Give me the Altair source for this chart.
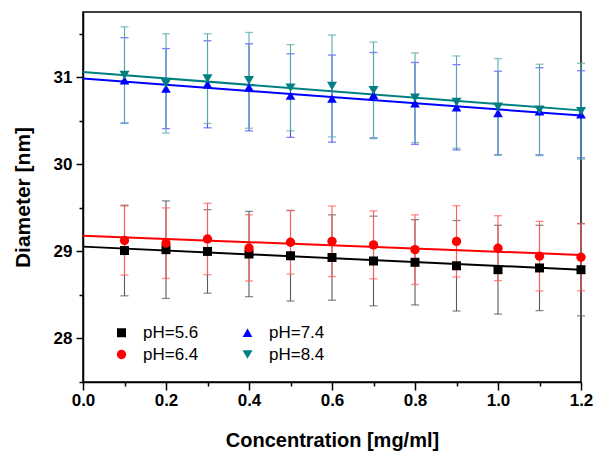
import altair as alt
import pandas as pd

# ---- data ----
conc = [0.1, 0.2, 0.3, 0.4, 0.5, 0.6, 0.7, 0.8, 0.9, 1.0, 1.1, 1.2]

ph56 = [29.01, 29.02, 29.00, 28.97, 28.95, 28.93, 28.89, 28.875, 28.835, 28.79, 28.81, 28.79]
err56 = [0.52, 0.56, 0.48, 0.49, 0.52, 0.49, 0.515, 0.49, 0.52, 0.51, 0.49, 0.53]

ph64 = [29.125, 29.095, 29.143, 29.04, 29.105, 29.116, 29.075, 29.02, 29.115, 29.037, 28.945, 28.933]
err64 = [0.397, 0.405, 0.41, 0.38, 0.365, 0.405, 0.39, 0.40, 0.41, 0.373, 0.40, 0.385]

ph74 = [30.965, 30.87, 30.92, 30.885, 30.79, 30.755, 30.795, 30.70, 30.655, 30.59, 30.61, 30.575]
err74 = [0.49, 0.46, 0.50, 0.50, 0.48, 0.50, 0.49, 0.47, 0.49, 0.48, 0.50, 0.50]

ph84 = [31.025, 30.93, 30.985, 30.965, 30.88, 30.90, 30.85, 30.765, 30.715, 30.66, 30.625, 30.61]
err84 = [0.555, 0.57, 0.515, 0.55, 0.495, 0.585, 0.555, 0.515, 0.53, 0.555, 0.525, 0.55]

# linear fit lines (end points)
fit_x = [0.0, 1.2]
fit56 = [29.055, 28.79]
fit64 = [29.18, 28.96]
fit74 = [30.985, 30.56]
fit84 = [31.06, 30.62]

labels = ["pH=5.6", "pH=6.4", "pH=7.4", "pH=8.4"]
colors = ["#000000", "#ff0000", "#0000ff", "#008080"]
bar_colors = ["#5a5a5a", "#ff5c5c", "#4848ff", "#5aa9a9"]
shapes = ["square", "circle", "triangle-up", "triangle-down"]
sizes = [81, 100, 121, 121]

x_ticks = [0.0, 0.1, 0.2, 0.3, 0.4, 0.5, 0.6, 0.7, 0.8, 0.9, 1.0, 1.1, 1.2]
y_ticks = [27.5, 28.0, 28.5, 29.0, 29.5, 30.0, 30.5, 31.0, 31.5]

# ---- tables ----
rows = []
for lab, ys, es in zip(labels, [ph56, ph64, ph74, ph84], [err56, err64, err74, err84]):
    for x, y, e in zip(conc, ys, es):
        rows.append({"series": lab, "x": x, "y": y, "lo": y - e, "hi": y + e})
pts = pd.DataFrame(rows)

frows = []
for lab, fy in zip(labels, [fit56, fit64, fit74, fit84]):
    for x, y in zip(fit_x, fy):
        frows.append({"series": lab, "x": x, "y": y})
fits = pd.DataFrame(frows)

FONT = "Liberation Sans"

xscale = alt.Scale(domain=[0, 1.2], nice=False, zero=False)
yscale = alt.Scale(domain=[27.5, 31.75], nice=False, zero=False)
cscale = alt.Scale(domain=labels, range=colors)
sscale = alt.Scale(domain=labels, range=shapes)
zscale = alt.Scale(domain=labels, range=sizes)

xaxis = alt.Axis(
    title="Concentration [mg/ml]",
    values=x_ticks,
    labelExpr="round(datum.value*10) % 2 == 0 ? format(datum.value, '.1f') : ''",
    tickSize={"condition": {"test": "round(datum.value*10) % 2 == 0", "value": 8}, "value": 4},
    grid=False,
    labelPadding=2,
    titlePadding=22,
    labelFlush=False,
)
yaxis = alt.Axis(
    title="Diameter [nm]",
    values=y_ticks,
    labelExpr="abs(datum.value - round(datum.value)) < 0.01 ? format(datum.value, 'd') : ''",
    tickSize={"condition": {"test": "abs(datum.value - round(datum.value)) < 0.01", "value": 7}, "value": 4},
    grid=False,
    labelPadding=4,
    titlePadding=20,
    titleFontSize=21,
)

# one error-bar layer per series, so that later series are drawn on top
err_layers = []
for lab, bc in zip(labels, bar_colors):
    err_layers.append(
        alt.Chart(pts)
        .transform_filter(alt.datum.series == lab)
        .mark_errorbar(orient="vertical", thickness=1.1, color=bc,
                       ticks={"size": 8, "thickness": 1.3, "color": bc},
                       rule={"color": bc})
        .encode(
            x=alt.X("x:Q", scale=xscale, axis=xaxis),
            y=alt.Y("lo:Q", scale=yscale, axis=yaxis),
            y2="hi:Q",
        )
    )

lines = alt.Chart(fits).mark_line(strokeWidth=2).encode(
    x=alt.X("x:Q", scale=xscale, axis=xaxis),
    y=alt.Y("y:Q", scale=yscale, axis=yaxis),
    color=alt.Color("series:N", scale=cscale, legend=None),
    detail="series:N",
)

leg = alt.Legend(
    title=None,
    orient="none",
    legendX=30,
    legendY=312,
    columns=2,
    columnPadding=40,
    rowPadding=4,
    labelFontSize=17,
    labelFont=FONT,
    labelColor="black",
    labelOffset=13,
    symbolSize=81,
    symbolStrokeWidth=0,
)

points = alt.Chart(pts).mark_point(filled=True, opacity=1).encode(
    x=alt.X("x:Q", scale=xscale, axis=xaxis),
    y=alt.Y("y:Q", scale=yscale, axis=yaxis),
    color=alt.Color("series:N", scale=cscale, legend=leg),
    shape=alt.Shape("series:N", scale=sscale, legend=leg),
    size=alt.Size("series:N", scale=zscale, legend=None),
)

chart = alt.layer(*err_layers, lines, points).resolve_legend(
    color="independent", shape="independent", size="independent"
).properties(
    width=498,
    height=370,
    autosize=alt.AutoSizeParams(type="none"),
    padding={"left": 83, "top": 12, "right": 24, "bottom": 75},
    background="white",
).configure_view(
    stroke="black", strokeWidth=1.5
).configure_axis(
    labelFont=FONT,
    labelFontSize=17,
    labelFontWeight="bold",
    labelColor="black",
    titleFont=FONT,
    titleFontSize=20,
    titleFontWeight="bold",
    titleColor="black",
    domainColor="black",
    domainWidth=1.5,
    tickColor="black",
    tickWidth=1.5,
)

chart.save("out.html", embed_options={"renderer": "svg", "actions": False})
